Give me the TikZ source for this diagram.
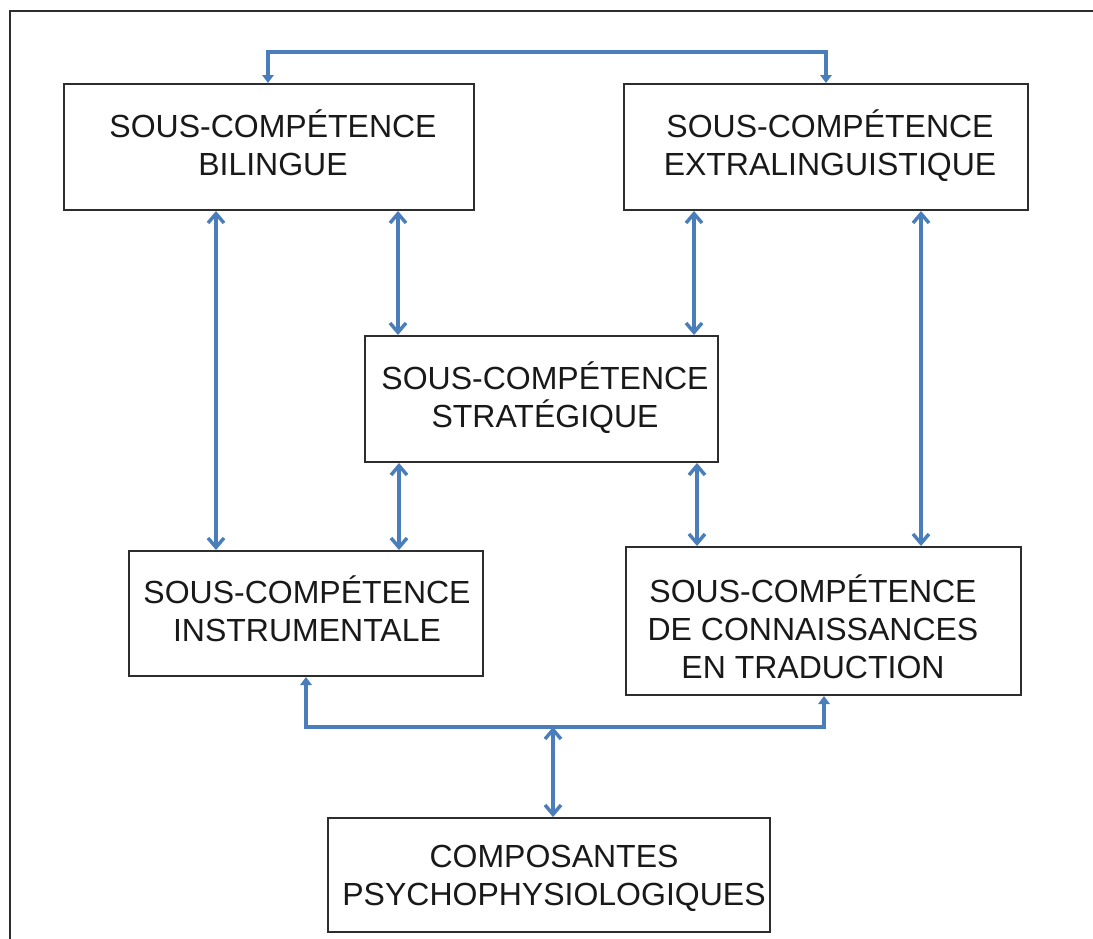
\documentclass[tikz,border=0pt]{standalone}
\usepackage{fontspec}
\setmainfont{Liberation Sans}
\usetikzlibrary{arrows.meta}
\definecolor{linkblue}{RGB}{74,126,187}
\definecolor{edgegray}{RGB}{45,45,45}
\begin{document}
\begin{tikzpicture}[x=0.75pt,y=-0.75pt,
  box/.style={draw=edgegray, line width=1.5pt, fill=white, inner sep=0pt},
  lbl/.style={font=\fontsize{24}{28.5}\selectfont, align=center, inner sep=0pt, text=black!90, anchor=base},
  barb/.tip={Straight Barb[length=7pt,width=12pt]},
  smalltip/.tip={Triangle[length=6pt,width=8.5pt]},
  link/.style={draw=linkblue, line width=2.6pt, barb-barb},
  elbow/.style={draw=linkblue, line width=2.5pt, smalltip-smalltip}]
\useasboundingbox (0,0) rectangle (1093,939);

% outer frame (top and left edges)
\draw[edgegray, line width=1.5pt] (10,939) -- (10,11) -- (1093,11);

% boxes
\node[box, minimum width=307.5pt, minimum height=94.5pt] (bil) at (269,147) {};
\node[box, minimum width=303pt,   minimum height=94.5pt] (ext) at (826,147) {};
\node[box, minimum width=264.75pt,minimum height=94.5pt] (str) at (541.5,399) {};
\node[box, minimum width=265.5pt, minimum height=93.75pt] (ins) at (306,613.5) {};
\node[box, minimum width=296.25pt,minimum height=111pt] (con) at (823.5,621) {};
\node[box, minimum width=331.5pt, minimum height=85.5pt] (comp) at (549,875) {};

% labels (anchored on the baseline of the last line)
\node[lbl] (bilT)  at (273,175) {SOUS-COMPÉTENCE\\BILINGUE};
\node[lbl] (extT)  at (830,175) {SOUS-COMPÉTENCE\\EXTRALINGUISTIQUE};
\node[lbl] (strT)  at (545,427) {SOUS-COMPÉTENCE\\STRATÉGIQUE};
\node[lbl] (insT)  at (307,641) {SOUS-COMPÉTENCE\\INSTRUMENTALE};
\node[lbl] (conT)  at (813,678) {SOUS-COMPÉTENCE\\DE CONNAISSANCES\\EN TRADUCTION};
\node[lbl] (compT) at (554,905) {COMPOSANTES\\PSYCHOPHYSIOLOGIQUES};

% x positions of the vertical links
\coordinate (xa) at (216,0);
\coordinate (xb) at (398,0);
\coordinate (xc) at (694,0);
\coordinate (xd) at (921,0);
\coordinate (xe) at (399,0);
\coordinate (xf) at (697,0);

\draw[link] (bil.south -| xa) -- (ins.north -| xa);
\draw[link] (bil.south -| xb) -- (str.north -| xb);
\draw[link] (ext.south -| xc) -- (str.north -| xc);
\draw[link] (ext.south -| xd) -- (con.north -| xd);
\draw[link] (str.south -| xe) -- (ins.north -| xe);
\draw[link] (str.south -| xf) -- (con.north -| xf);

% top bracket between the two upper boxes
\coordinate (tl) at (268,52);
\coordinate (tr) at (826,52);
\draw[elbow] (bil.north -| tl) -- (tl) -- (tr) -- (ext.north -| tr);

% bottom bracket and link to the psycho-physiological components
\coordinate (bl) at (306,727);
\coordinate (br) at (824,727);
\coordinate (hub) at (553,727);
\draw[elbow] (ins.south -| bl) -- (bl) -- (br) -- (con.south -| br);
\draw[link] (hub) -- (comp.north -| hub);
\end{tikzpicture}
\end{document}
